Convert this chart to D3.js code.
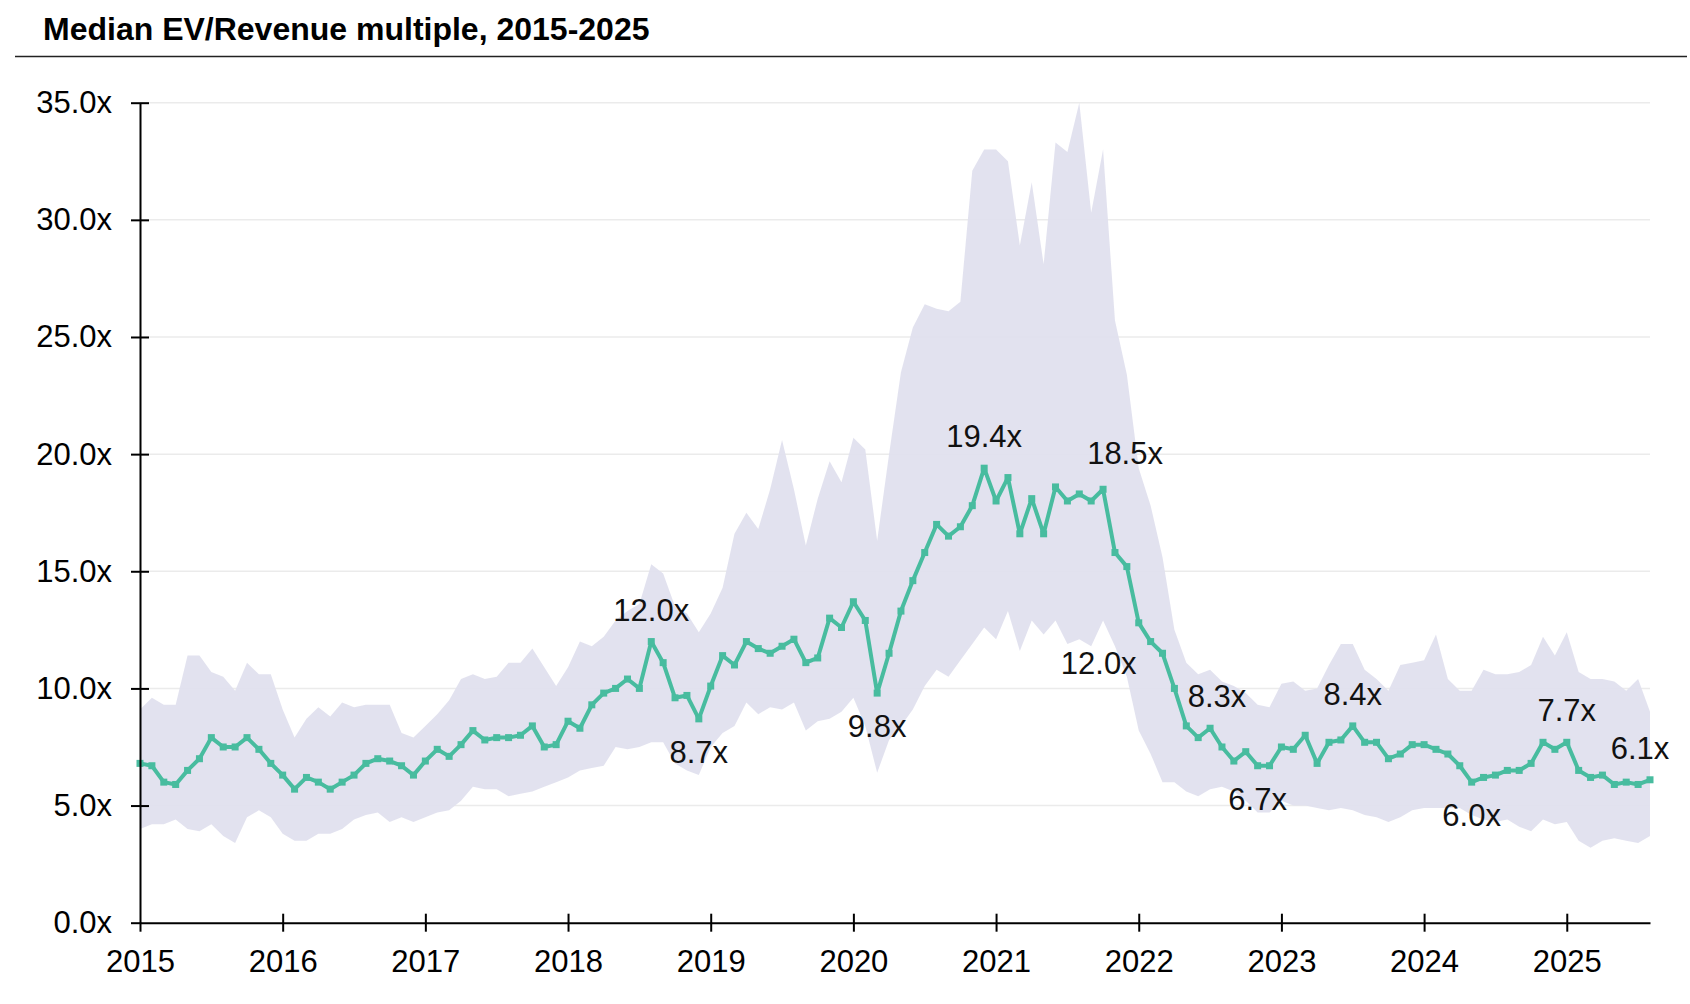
<!DOCTYPE html>
<html>
<head>
<meta charset="utf-8">
<script src="https://cdn.jsdelivr.net/npm/d3@7"></script>
<style>
  body { margin: 0; background: #fff; }
  text { font-family: "Liberation Sans", Arial, sans-serif; }
</style>
</head>
<body>
<div id="chart"></div>
<script>
// monthly values, Jan 2015 .. Aug 2025
const median = [
  6.8, 6.7, 6.0, 5.9, 6.5, 7.0, 7.9, 7.5, 7.5, 7.9, 7.4, 6.8,
  6.3, 5.7, 6.2, 6.0, 5.7, 6.0, 6.3, 6.8, 7.0, 6.9, 6.7, 6.3,
  6.9, 7.4, 7.1, 7.6, 8.2, 7.8, 7.9, 7.9, 8.0, 8.4, 7.5, 7.6,
  8.6, 8.3, 9.3, 9.8, 10.0, 10.4, 10.0, 12.0, 11.1, 9.6, 9.7, 8.7,
  10.1, 11.4, 11.0, 12.0, 11.7, 11.5, 11.8, 12.1, 11.1, 11.3, 13.0, 12.6,
  13.7, 12.9, 9.8, 11.5, 13.3, 14.6, 15.8, 17.0, 16.5, 16.9, 17.8, 19.4,
  18.0, 19.0, 16.6, 18.1, 16.6, 18.6, 18.0, 18.3, 18.0, 18.5, 15.8, 15.2,
  12.8, 12.0, 11.5, 10.0, 8.4, 7.9, 8.3, 7.5, 6.9, 7.3, 6.7, 6.7,
  7.5, 7.4, 8.0, 6.8, 7.7, 7.8, 8.4, 7.7, 7.7, 7.0, 7.2, 7.6,
  7.6, 7.4, 7.2, 6.7, 6.0, 6.2, 6.3, 6.5, 6.5, 6.8, 7.7, 7.4,
  7.7, 6.5, 6.2, 6.3, 5.9, 6.0, 5.9, 6.1
];

const upper = [
  9.1, 9.6, 9.3, 9.3, 11.4, 11.4, 10.7, 10.5, 9.9, 11.1, 10.6, 10.6,
  9.1, 7.9, 8.7, 9.2, 8.8, 9.4, 9.2, 9.3, 9.3, 9.3, 8.1, 7.9,
  8.4, 8.9, 9.5, 10.4, 10.6, 10.4, 10.5, 11.1, 11.1, 11.7, 10.9, 10.1,
  10.9, 12.0, 11.8, 12.2, 12.9, 13.3, 13.6, 15.3, 14.9, 13.5, 13.2, 12.4,
  13.2, 14.3, 16.6, 17.5, 16.8, 18.5, 20.6, 18.5, 16.1, 18.1, 19.7, 18.8,
  20.7, 20.2, 16.3, 20.0, 23.5, 25.4, 26.4, 26.2, 26.1, 26.5, 32.1, 33.0,
  33.0, 32.5, 28.9, 31.6, 28.1, 33.3, 32.9, 35.0, 30.3, 33.0, 25.7, 23.4,
  19.4, 17.8, 15.6, 12.5, 11.1, 10.6, 10.8, 10.3, 10.1, 9.8, 9.3, 9.2,
  10.2, 10.3, 9.9, 10.0, 11.0, 11.9, 11.9, 10.8, 10.4, 9.9, 11.0, 11.1,
  11.2, 12.3, 10.4, 9.9, 9.9, 10.8, 10.6, 10.6, 10.7, 11.0, 12.2, 11.4,
  12.4, 10.7, 10.4, 10.4, 10.3, 9.9, 10.4, 9.0
];

const lower = [
  4.0, 4.2, 4.2, 4.4, 4.0, 3.9, 4.2, 3.7, 3.4, 4.5, 4.8, 4.5,
  3.8, 3.5, 3.5, 3.8, 3.8, 4.0, 4.4, 4.6, 4.7, 4.3, 4.5, 4.3,
  4.5, 4.7, 4.8, 5.2, 5.8, 5.7, 5.7, 5.4, 5.5, 5.6, 5.8, 6.0,
  6.2, 6.5, 6.6, 6.7, 7.5, 7.4, 7.5, 7.7, 7.7, 6.8, 6.5, 6.3,
  7.5, 8.1, 8.4, 9.4, 8.9, 9.2, 9.1, 9.4, 8.2, 8.6, 8.7, 9.0,
  9.6, 8.4, 6.4, 7.8, 8.4, 9.1, 10.1, 10.8, 10.5, 11.2, 11.9, 12.6,
  12.1, 13.3, 11.6, 12.9, 12.3, 12.9, 11.9, 12.1, 11.8, 12.9, 11.8, 10.5,
  8.2, 7.2, 6.0, 6.0, 5.6, 5.4, 5.7, 5.8, 5.6, 5.2, 4.7, 4.7,
  5.2, 5.0, 5.0, 4.9, 4.8, 4.9, 4.8, 4.6, 4.5, 4.3, 4.5, 4.8,
  4.9, 4.9, 4.9, 4.9, 4.6, 4.4, 4.3, 4.4, 4.1, 3.9, 4.4, 4.2,
  4.3, 3.5, 3.2, 3.5, 3.6, 3.5, 3.4, 3.7
];

const yearTicks = [2015, 2016, 2017, 2018, 2019, 2020, 2021, 2022, 2023, 2024, 2025];
const valueTicks = [0, 5, 10, 15, 20, 25, 30, 35];

const labelIndex = [43, 47, 62, 71, 81, 85, 90, 94, 102, 112, 120, 127];
const labelText = ["12.0x", "8.7x", "9.8x", "19.4x", "18.5x", "12.0x", "8.3x", "6.7x", "8.4x", "6.0x", "7.7x", "6.1x"];
const labelSide = ["above", "below", "below", "above", "above", "left", "above", "below", "above", "below", "above", "above"];

const title = "Median EV/Revenue multiple, 2015-2025";

(function() {
    const svgWidth = 1690,
          svgHeight = 1004;

    const left = 140, right = 1650, top = 102.7, bottom = 922.7;

    const lineColor = "#48bc9f";
    const bandColor = "#e0dfee";

    const svg = d3.select("#chart")
        .append("svg")
        .attr("width", svgWidth)
        .attr("height", svgHeight)
        .style("background", "#fff");

    // title and rule
    svg.append("text")
        .attr("x", 43)
        .attr("y", 40)
        .style("font-size", "32px")
        .style("font-weight", "bold")
        .style("fill", "#000")
        .text(title);

    svg.append("line")
        .attr("x1", 15).attr("x2", 1687)
        .attr("y1", 56.5).attr("y2", 56.5)
        .attr("stroke", "#222")
        .attr("stroke-width", 1.5);

    const data = median.map((m, i) => ({
        t: 2015 + i / 12,
        m: m,
        hi: upper[i],
        lo: lower[i]
    }));

    const x = d3.scaleLinear()
        .domain([2015, data[data.length - 1].t])
        .range([left, right]);

    const y = d3.scaleLinear()
        .domain([0, 35])
        .range([bottom, top]);

    // gridlines
    svg.append("g")
        .selectAll("line")
        .data(valueTicks.filter(v => v > 0))
        .enter()
        .append("line")
        .attr("x1", left)
        .attr("x2", right)
        .attr("y1", d => y(d))
        .attr("y2", d => y(d))
        .attr("stroke", "#ebebeb")
        .attr("stroke-width", 1.5);

    // band between low and high
    const area = d3.area()
        .x(d => x(d.t))
        .y0(d => y(d.lo))
        .y1(d => y(d.hi));

    svg.append("path")
        .datum(data)
        .attr("d", area)
        .attr("fill", bandColor)
        .attr("fill-opacity", 0.92);

    // median line + square markers
    const line = d3.line()
        .x(d => x(d.t))
        .y(d => y(d.m));

    svg.append("path")
        .datum(data)
        .attr("d", line)
        .attr("fill", "none")
        .attr("stroke", lineColor)
        .attr("stroke-width", 4)
        .attr("stroke-linejoin", "round");

    svg.append("g")
        .selectAll("rect")
        .data(data)
        .enter()
        .append("rect")
        .attr("x", d => x(d.t) - 3.5)
        .attr("y", d => y(d.m) - 3.5)
        .attr("width", 7)
        .attr("height", 7)
        .attr("fill", lineColor);

    // axes
    const yAxis = d3.axisLeft(y)
        .tickValues(valueTicks)
        .tickFormat(d => d3.format(".1f")(d) + "x")
        .tickSize(9)
        .tickSizeOuter(0)
        .tickPadding(19);

    const yg = svg.append("g")
        .attr("transform", `translate(${left},0)`)
        .call(yAxis);

    const xAxis = d3.axisBottom(x)
        .tickValues(yearTicks)
        .tickFormat(d3.format("d"))
        .tickSize(9)
        .tickSizeOuter(0)
        .tickPadding(18);

    const xg = svg.append("g")
        .attr("transform", `translate(0,${bottom})`)
        .call(xAxis);

    [yg, xg].forEach(g => {
        g.select(".domain").attr("stroke", "#000").attr("stroke-width", 2);
        g.selectAll(".tick line").attr("stroke", "#000").attr("stroke-width", 2);
        g.selectAll(".tick text")
            .attr("fill", "#000")
            .style("font-size", "31px")
            .style("font-family", "'Liberation Sans', Arial, sans-serif");
    });

    // ticks cross the axis line
    yg.selectAll(".tick line").attr("x1", 9);
    xg.selectAll(".tick line").attr("y1", -9);
    xg.selectAll(".tick").filter(d => d === 2015).select("line").attr("y1", 0);
    yg.selectAll(".tick").filter(d => d === 0).select("line").attr("x1", 0);

    // value callouts
    const offsets = {
        above: {dx: 0, dy: -21, anchor: "middle"},
        below: {dx: 0, dy: 44, anchor: "middle"},
        left:  {dx: -14, dy: 32, anchor: "end"}
    };
    const nudge = {81: 22, 90: 7, 127: -10};

    svg.append("g")
        .selectAll("text")
        .data(labelIndex)
        .enter()
        .append("text")
        .attr("x", (d, k) => x(data[d].t) + offsets[labelSide[k]].dx + (nudge[d] || 0))
        .attr("y", (d, k) => y(data[d].m) + offsets[labelSide[k]].dy - (d === 81 ? 4 : 0))
        .attr("text-anchor", (d, k) => offsets[labelSide[k]].anchor)
        .style("font-size", "31px")
        .style("fill", "#111")
        .text((d, k) => labelText[k]);
})();
</script>
</body>
</html>
